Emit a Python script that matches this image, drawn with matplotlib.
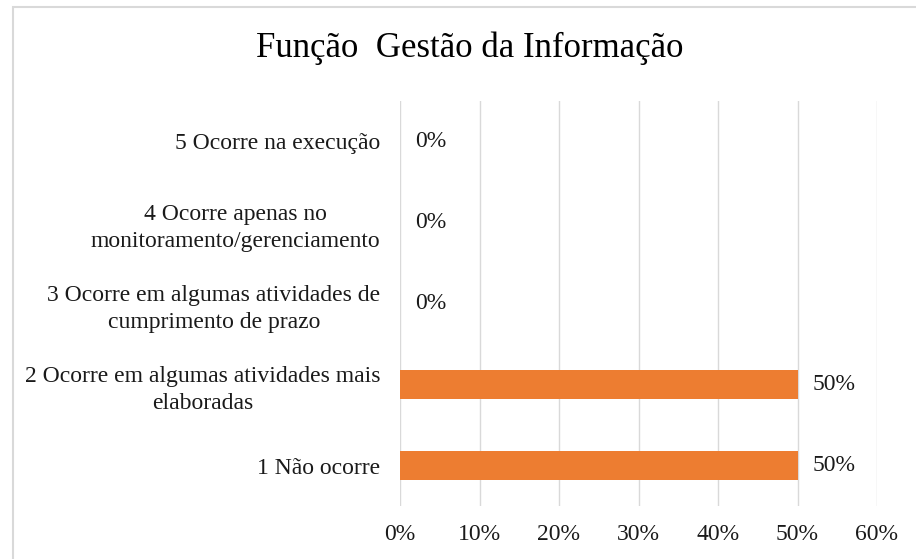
import matplotlib
matplotlib.use("Agg")
import matplotlib.pyplot as plt
from matplotlib.patches import Rectangle

categories = [
    "1 Não ocorre",
    "2 Ocorre em algumas atividades mais\nelaboradas",
    "3 Ocorre em algumas atividades de\ncumprimento de prazo",
    "4 Ocorre apenas no\nmonitoramento/gerenciamento",
    "5 Ocorre na execução",
]
values = [50, 50, 0, 0, 0]
xticks = [0, 10, 20, 30, 40, 50, 60]
title = "Função  Gestão da Informação"

plt.rcParams['font.family'] = ['Liberation Serif', 'DejaVu Serif']

fig = plt.figure(figsize=(9.16, 5.59), dpi=100)
fig.patch.set_facecolor("white")
ax = fig.add_axes([400/916, 53/559, 477/916, 405/559])

y = list(range(len(categories)))
ax.barh(y, values, height=0.36, color="#ED7D31", zorder=3)
for yi, v in zip(y, values):
    ax.annotate(f"{v}%", xy=(v, yi), xytext=(11, 0), textcoords="offset points",
                ha="left", va="center", fontsize=17, color="#1a1a1a")

ax.set_xlim(0, 60)
ax.set_ylim(-0.5, len(categories) - 0.5)
ax.set_xticks(xticks)
ax.set_xticklabels([f"{t}%" for t in xticks], fontsize=17, color="#1a1a1a")
ax.set_yticks(y)
ax.set_yticklabels(categories, fontsize=17, color="#1a1a1a", multialignment="center",
                   linespacing=1.35)
ax.tick_params(axis="both", length=0)
ax.tick_params(axis="x", pad=13)
ax.tick_params(axis="y", pad=14)
ax.grid(axis="x", color="#d9d9d9", linewidth=1, zorder=0)
for s in ax.spines.values():
    s.set_visible(False)

fig.text(470/916, 1 - 48/559, title, ha="center", va="center", fontsize=25, color="#000000")

fig.patches.append(Rectangle((13/916, -0.1), 1.2, (559 - 7)/559 + 0.1,
                             transform=fig.transFigure, fill=False,
                             edgecolor="#d9d9d9", linewidth=1.5))

fig.savefig("out.png", dpi=100, facecolor="white")
